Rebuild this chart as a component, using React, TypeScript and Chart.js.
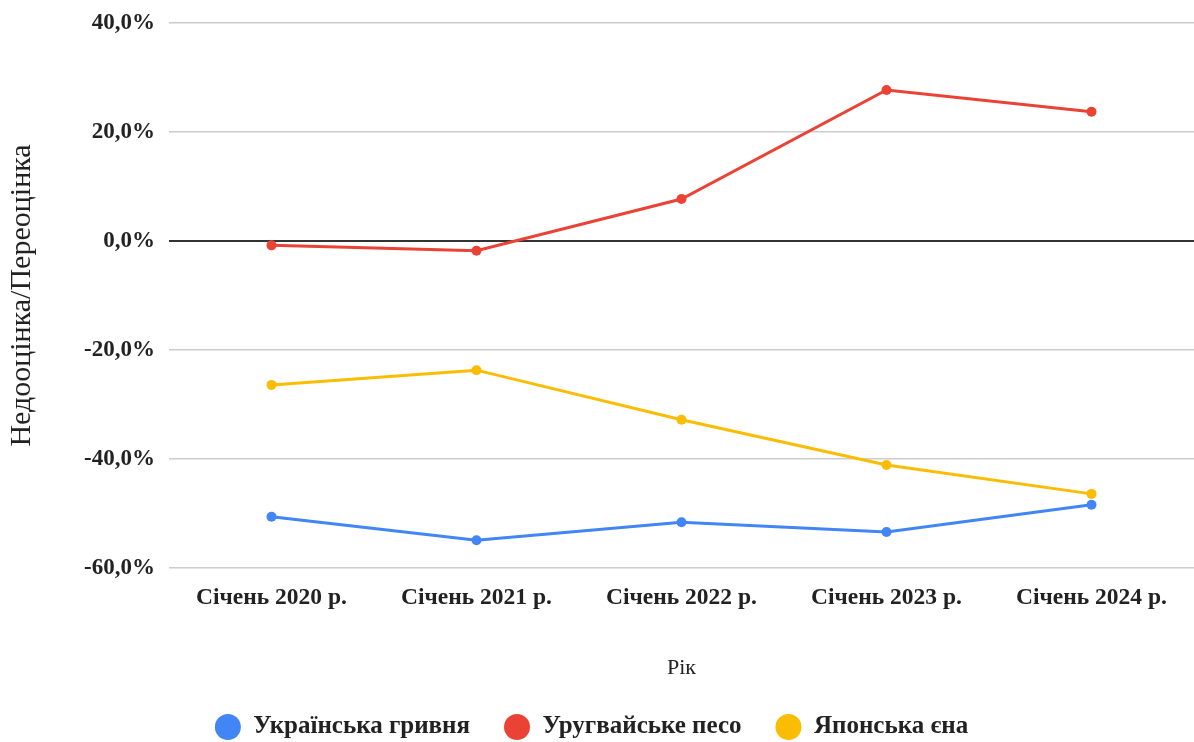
import React, { useEffect, useRef } from "react";
import { Chart, registerables } from "chart.js";

Chart.register(...registerables);

const categories = ["Січень 2020 р.", "Січень 2021 р.", "Січень 2022 р.", "Січень 2023 р.", "Січень 2024 р."];
const seriesNames = ["Українська гривня", "Уругвайське песо", "Японська єна"];
const uahValues = [-50.6, -54.9, -51.6, -53.4, -48.4];
const uyuValues = [-0.8, -1.8, 7.7, 27.7, 23.7];
const jpyValues = [-26.4, -23.7, -32.8, -41.1, -46.4];
const seriesColors = ["#4285F4", "#EA4335", "#FBBC04"];
const yTicks = [40, 20, 0, -20, -40, -60];
const yTitle = "Недооцінка/Переоцінка";
const xTitle = "Рік";

const FONT = "'Liberation Serif', serif";

const legendShift = {
  id: "legendShift",
  afterLayout(chart: any) {
    if (chart.legend) {
      chart.legend.left -= 9;
      chart.legend.right -= 9;
    }
  },
};

export default function App() {
  const ref = useRef<HTMLCanvasElement | null>(null);
  useEffect(() => {
    if (!ref.current) return;
    const values = [uahValues, uyuValues, jpyValues];
    const chart = new Chart(ref.current, {
      type: "line",
      plugins: [legendShift],
      data: {
        labels: categories,
        datasets: seriesNames.map((name, i) => ({
          label: name,
          data: values[i],
          borderColor: seriesColors[i],
          backgroundColor: seriesColors[i],
          borderWidth: 3,
          pointRadius: 5,
          pointHoverRadius: 5,
          pointBorderWidth: 0,
          tension: 0,
          clip: false as any,
        })),
      },
      options: {
        responsive: false,
        animation: false,
        layout: { autoPadding: false, padding: { top: 23, right: -7, bottom: -8, left: 0 } },
        plugins: {
          tooltip: { enabled: false },
          legend: {
            position: "bottom",
            labels: {
              boxWidth: 26,
              boxHeight: 26,
              useBorderRadius: true,
              borderRadius: 13,
              padding: 34,
              color: "#222",
              font: { family: FONT, size: 25, weight: "bold" },
              generateLabels: (c: any) =>
                c.data.datasets.map((ds: any, i: number) => ({
                  text: ds.label,
                  fillStyle: seriesColors[i],
                  strokeStyle: seriesColors[i],
                  lineWidth: 0,
                  hidden: false,
                  datasetIndex: i,
                  fontColor: "#222",
                  borderRadius: 13,
                })),
            },
          },
        },
        scales: {
          x: {
            offset: true,
            afterFit: (s: any) => {
              s.height = 112;
              s.paddingLeft = 0;
              s.paddingRight = -7;
            },
            grid: { display: false, drawTicks: false },
            border: { display: false },
            ticks: {
              padding: 16,
              color: "#222",
              font: { family: FONT, size: 23.5, weight: "bold" },
              maxRotation: 0,
              autoSkip: false,
            },
            title: {
              display: true,
              text: xTitle,
              color: "#222",
              font: { family: FONT, size: 22, weight: "normal" },
              padding: { top: 0, bottom: -1 },
            },
          },
          y: {
            min: -60,
            max: 40,
            afterFit: (s: any) => {
              s.width = 169;
              s.paddingTop = 0;
              s.paddingBottom = 0;
              s.paddingLeft = 0;
              s.paddingRight = -7;
            },
            afterBuildTicks: (s: any) => {
              s.ticks = yTicks.map((v) => ({ value: v }));
            },
            grid: {
              drawTicks: false,
              color: (ctx: any) => (ctx.tick && ctx.tick.value === 0 ? "#333333" : "#cccccc"),
              lineWidth: (ctx: any) => (ctx.tick && ctx.tick.value === 0 ? 2 : 1.5),
            },
            border: { display: false },
            ticks: {
              padding: 14,
              color: "#222",
              font: { family: FONT, size: 23, weight: "bold" },
              callback: (v: any) => Number(v).toFixed(1).replace(".", ",") + "%",
            },
            title: {
              display: true,
              text: yTitle,
              color: "#222",
              font: { family: FONT, size: 30, weight: "normal" },
              padding: { top: 4, bottom: 0 },
            },
          },
        },
      },
    });
    return () => chart.destroy();
  }, []);
  return (
    <div style={{ position: "absolute", left: 0, top: 0, width: 1194, height: 742, background: "#fff", overflow: "hidden" }}>
      <canvas ref={ref} width={1194} height={742} />
    </div>
  );
}
